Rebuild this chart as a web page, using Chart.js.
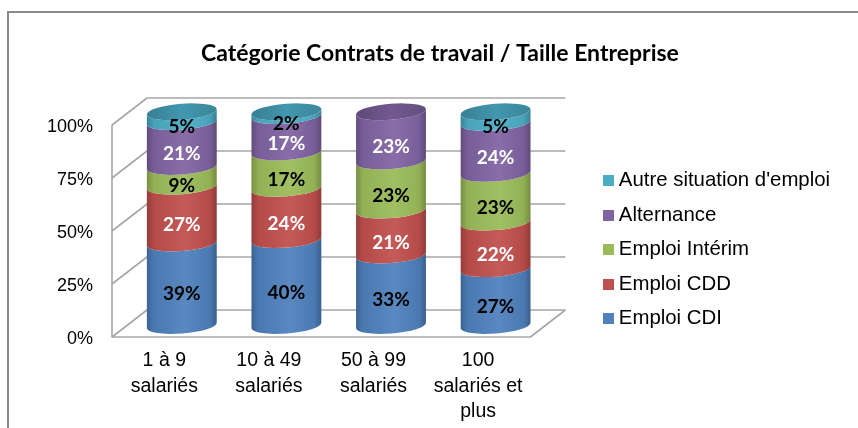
<!DOCTYPE html>
<html><head><meta charset="utf-8">
<style>html,body{margin:0;padding:0;background:#fff}#w{position:relative;width:858px;height:428px}
#c{filter:blur(.35px)}
#f{position:absolute;left:7px;top:11px;right:0;bottom:0;border-left:2px solid #8a8a8a;border-top:2px solid #8a8a8a;pointer-events:none}</style>
<script src="https://cdn.jsdelivr.net/npm/chart.js@4"></script>
</head><body><div id="w"><canvas id="c" width="858" height="428"></canvas><div id="f"></div></div>
<script>
const categories = [["1 à 9","salariés"],["10 à 49","salariés"],["50 à 99","salariés"],["100","salariés et","plus"]];
const emploiCDI = [38.6, 40.2, 33.0, 26.6];
const emploiCDD = [26.6, 24.0, 21.0, 21.8];
const emploiInterim = [9.2, 17.0, 23.0, 22.8];
const alternance = [21.0, 17.0, 23.0, 23.8];
const autre = [4.6, 1.8, 0, 5.0];
const seriesNames = ["Emploi CDI","Emploi CDD","Emploi Intérim","Alternance","Autre situation d'emploi"];
const seriesColors = ["#4f81bd","#c0504d","#9bbb59","#8064a2","#4bacc6"];
const labelColors = ["#000","#fff","#000","#fff","#000"];
const yTicks = [0,25,50,75,100];

function shade(hex,f){const n=parseInt(hex.slice(1),16);
  const c=[n>>16&255,n>>8&255,n&255].map(v=>Math.max(0,Math.min(255,Math.round(f>1?v+(255-v)*(f-1):v*f))));
  return `rgb(${c})`;}
function swatch(col){const s=document.createElement('canvas');s.width=11;s.height=11;const x=s.getContext('2d');x.fillStyle=col;x.fillRect(0,0,11,11);return s;}
const swatches=seriesColors.map(swatch);

const DX=35, DY=27, SHIFT_X=17.5, SHIFT_Y=11.5, STRETCH=1.008, RY=8, TILT=-4.5*Math.PI/180;

const frame3d={id:'frame3d',
  afterLayout(chart){
    const l=chart.legend; if(l){l.left=593.5; l.right=858; l.top=156.5;l.bottom=l.top+l.height;}
    const t=chart.titleBlock; if(t){t.left=22;t.right=858;}
  },
  beforeDatasetsDraw(chart){
    const {ctx,scales:{y},chartArea:a}=chart;
    ctx.save();ctx.strokeStyle='#a6a6a6';ctx.lineWidth=1.6;ctx.lineJoin='round';
    yTicks.forEach(t=>{const p=y.getPixelForValue(t);
      ctx.beginPath();ctx.moveTo(a.left,p);ctx.lineTo(a.left+DX,p-DY);ctx.lineTo(a.right+DX,p-DY);ctx.stroke();});
    ctx.beginPath();ctx.moveTo(a.left,y.getPixelForValue(100));ctx.lineTo(a.left,y.getPixelForValue(0));
    ctx.lineTo(a.right,y.getPixelForValue(0));ctx.lineTo(a.right+DX,y.getPixelForValue(0)-DY);ctx.stroke();
    const n=chart.data.labels.length, nd=chart.data.datasets.length;
    const labels=[];
    const top=v=>y.getPixelForValue(0)-SHIFT_Y-(y.getPixelForValue(0)-v)*STRETCH;
    for(let i=0;i<n;i++){
      let cap=null,cx,rx,ytop;
      for(let d=0;d<nd;d++){
        const el=chart.getDatasetMeta(d).data[i]; const val=chart.data.datasets[d].data[i];
        cx=el.x+SHIFT_X; rx=el.width/2;
        if(!val) continue;
        const yb=top(el.base), yt=top(el.y); const col=seriesColors[d];
        const g=ctx.createLinearGradient(cx-rx,0,cx+rx,0);
        g.addColorStop(0,shade(col,.76));g.addColorStop(.1,shade(col,.94));g.addColorStop(.55,shade(col,1.06));
        g.addColorStop(.9,shade(col,.94));g.addColorStop(1,shade(col,.74));
        ctx.beginPath();
        ctx.ellipse(cx,yb,rx,RY,TILT,Math.PI,0,true);
        ctx.ellipse(cx,yt,rx,RY,TILT,0,Math.PI,false);
        ctx.closePath();ctx.fillStyle=g;ctx.fill();
        cap=col;ytop=yt;
        labels.push({t:Math.round(val)+'%',x:cx,y:(yb+yt)/2+10,c:labelColors[d]});
      }
      ctx.beginPath();ctx.ellipse(cx,ytop,rx,RY,TILT,0,Math.PI*2);
      const gc=ctx.createLinearGradient(cx-rx,0,cx+rx,0);
      gc.addColorStop(0,shade(cap,.74));gc.addColorStop(.5,shade(cap,.88));gc.addColorStop(1,shade(cap,.78));
      ctx.fillStyle=gc;ctx.fill();
    }
    ctx.font='bold 19px Lato';ctx.textAlign='center';ctx.textBaseline='middle';
    labels.forEach(l=>{ctx.fillStyle=l.c;ctx.fillText(l.t,l.x,l.y);});
    ctx.restore();
    return false;
  }};

const seriesValues=[emploiCDI,emploiCDD,emploiInterim,alternance,autre];
new Chart(document.getElementById('c'),{type:'bar',
  data:{labels:categories,datasets:seriesNames.map((name,k)=>({label:name,data:seriesValues[k],backgroundColor:seriesColors[k],borderWidth:0}))},
  plugins:[frame3d],
  options:{responsive:false,animation:false,
    layout:{padding:{left:0,right:81,top:0,bottom:0}},
    datasets:{bar:{categoryPercentage:.67,barPercentage:1}},
    scales:{
      x:{stacked:true,grid:{display:false},border:{display:false},
        ticks:{color:'#000',font:{family:'Liberation Sans',size:19.5,lineHeight:1.31},padding:3,maxRotation:0,autoSkip:false},
        afterFit(s){s.height=91;}},
      y:{stacked:true,min:0,max:100,grid:{display:false},border:{display:false},
        ticks:{stepSize:25,color:'#000',font:{family:'Liberation Sans',size:18},padding:11,labelOffset:2,callback:v=>v+'%'},
        afterFit(s){s.width=112;}}
    },
    plugins:{
      tooltip:{enabled:false},
      title:{display:true,text:'Catégorie Contrats de travail / Taille Entreprise',color:'#000',
        font:{family:'Lato',size:23,weight:'bold'},padding:{top:40,bottom:57.4}},
      legend:{position:'right',reverse:true,align:'start',maxWidth:300,
        labels:{usePointStyle:true,pointStyleWidth:1,boxHeight:11,color:'#000',padding:14.1,font:{family:'Liberation Sans',size:20.4},
          generateLabels(chart){return Chart.defaults.plugins.legend.labels.generateLabels(chart).map(it=>Object.assign(it,{pointStyle:swatches[it.datasetIndex]}));}}}
    }
  }});
</script></body></html>
